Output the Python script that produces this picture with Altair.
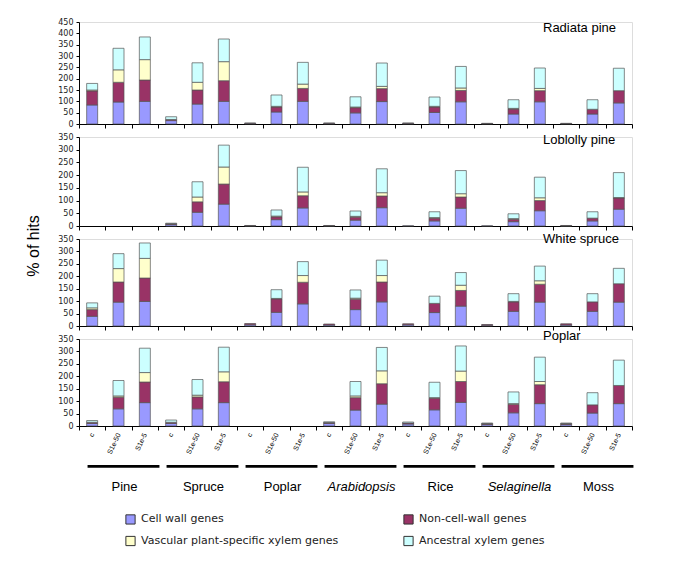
import altair as alt
import pandas as pd

groups = ["Pine", "Spruce", "Poplar", "Arabidopsis", "Rice", "Selaginella", "Moss"]
italic_groups = ["Arabidopsis", "Selaginella"]
types = ["c", "S1e-50", "S1e-5"]
# listed in stacking order (bottom to top)
categories = ["Cell wall genes", "Non-cell-wall genes",
              "Vascular plant-specific xylem genes", "Ancestral xylem genes"]
colors = ["#9999FF", "#993366", "#FFFFCC", "#CCFFFF"]
# legend reading order (two columns, filled column by column)
legend_order = [0, 2, 1, 3]
panels = ["Radiata pine", "Loblolly pine", "White spruce", "Poplar"]
ymax = [450, 350, 350, 350]

# values per bar: Pine(c,S1e-50,S1e-5), Spruce, Poplar, Arabidopsis, Rice, Selaginella, Moss
radiata_cell = [84, 97, 100, 15, 88, 100, 3, 53, 100, 3, 49, 99, 3, 51, 98, 2, 44, 98, 2, 44, 93]
radiata_non = [62, 87, 94, 5, 62, 91, 1, 22, 57, 1, 23, 57, 1, 24, 50, 1, 22, 49, 1, 21, 54]
radiata_vasc = [4, 55, 90, 0, 34, 84, 0, 3, 19, 0, 3, 10, 0, 3, 11, 0, 3, 10, 0, 0, 0]
radiata_anc = [29, 95, 100, 12, 86, 100, 0, 50, 96, 0, 45, 103, 0, 41, 95, 0, 38, 90, 0, 42, 99]

loblolly_cell = [0, 0, 0, 6, 54, 86, 1, 25, 71, 1, 23, 72, 1, 20, 70, 1, 17, 60, 1, 20, 66]
loblolly_non = [0, 0, 0, 3, 41, 79, 1, 11, 48, 1, 12, 46, 0, 11, 44, 0, 10, 40, 1, 11, 44]
loblolly_vasc = [0, 0, 0, 0, 19, 67, 0, 3, 15, 0, 3, 13, 0, 2, 13, 0, 2, 11, 0, 0, 2]
loblolly_anc = [0, 0, 0, 2, 60, 86, 0, 24, 97, 0, 21, 94, 0, 23, 91, 0, 19, 81, 0, 25, 98]

spruce_cell = [39, 96, 99, 0, 0, 0, 5, 55, 89, 4, 66, 97, 5, 54, 80, 3, 59, 96, 4, 59, 96]
spruce_non = [27, 81, 94, 0, 0, 0, 5, 54, 87, 4, 42, 80, 4, 37, 63, 3, 38, 72, 5, 38, 74]
spruce_vasc = [7, 54, 79, 0, 0, 0, 0, 2, 27, 0, 4, 26, 0, 0, 21, 0, 2, 14, 0, 0, 0]
spruce_anc = [20, 60, 62, 0, 0, 0, 0, 35, 56, 0, 33, 62, 0, 29, 51, 0, 31, 59, 0, 33, 62]

poplar_cell = [10, 69, 94, 10, 69, 94, 0, 0, 0, 10, 64, 88, 8, 65, 95, 6, 53, 90, 6, 52, 90]
poplar_non = [5, 47, 83, 5, 48, 84, 0, 0, 0, 4, 50, 82, 4, 47, 84, 4, 34, 76, 4, 33, 73]
poplar_vasc = [0, 5, 38, 0, 7, 40, 0, 0, 0, 0, 7, 52, 0, 2, 42, 0, 3, 13, 0, 0, 0]
poplar_anc = [7, 62, 98, 9, 63, 99, 0, 0, 0, 3, 58, 94, 4, 62, 101, 2, 47, 98, 2, 49, 102]

series = {
    "Radiata pine": [radiata_cell, radiata_non, radiata_vasc, radiata_anc],
    "Loblolly pine": [loblolly_cell, loblolly_non, loblolly_vasc, loblolly_anc],
    "White spruce": [spruce_cell, spruce_non, spruce_vasc, spruce_anc],
    "Poplar": [poplar_cell, poplar_non, poplar_vasc, poplar_anc],
}

bar_keys = [f"{g}|{t}" for g in groups for t in types]
color_domain = [categories[k] for k in legend_order]
color_range = [colors[k] for k in legend_order]

rows = []
for p in panels:
    for ci, cat in enumerate(categories):
        for bi, key in enumerate(bar_keys):
            rows.append({"panel": p, "bar": key, "cat": cat, "ord": ci,
                         "value": series[p][ci][bi]})
df = pd.DataFrame(rows)

heights = [102, 89, 87, 87]
title_y = [6.3, 3.3, 0.3, -3.3]
W = 553
FONT = "Liberation Sans"


def panel(i):
    p = panels[i]
    last = i == 3
    d = df[(df.panel == p) & (df.value > 0)]
    xaxis = alt.Axis(title=None, labels=last,
                     labelExpr="split(datum.value, '|')[1]",
                     labelAngle=295, labelAlign="right", labelBaseline="middle",
                     labelFontSize=7, labelFont=FONT, labelPadding=3,
                     labelOverlap=False, labelColor="black",
                     tickBand="extent", ticks=True, tickSize=4, tickColor="black",
                     domainColor="black", grid=False)
    yaxis = alt.Axis(title=None, values=list(range(0, ymax[i] + 1, 50)),
                     labelFont="DejaVu Sans", labelFontSize=8, labelColor="#222",
                     tickSize=3, tickColor="black", domainColor="black",
                     labelPadding=3, grid=False)
    if last:
        legend = alt.Legend(orient="none", legendX=46, legendY=174.5, columns=2,
                            columnPadding=62, rowPadding=7, title=None,
                            symbolType="square", symbolSize=85,
                            symbolStrokeColor="#333", symbolStrokeWidth=1,
                            labelFont="DejaVu Sans", labelFontSize=11,
                            labelColor="#222", labelOffset=5, padding=0,
                            labelLimit=400)
    else:
        legend = None
    bars = alt.Chart(d).mark_bar(size=11, stroke="#555", strokeWidth=0.7).encode(
        x=alt.X("bar:N", scale=alt.Scale(domain=bar_keys, paddingInner=0, paddingOuter=0),
                axis=xaxis),
        y=alt.Y("value:Q", stack="zero",
                scale=alt.Scale(domain=[0, ymax[i]], nice=False), axis=yaxis),
        color=alt.Color("cat:N", scale=alt.Scale(domain=color_domain, range=color_range),
                        legend=legend),
        order=alt.Order("ord:Q", sort="ascending"),
    )
    ttl = alt.Chart(pd.DataFrame({"t": [p]})).mark_text(
        align="left", baseline="middle", font=FONT, fontSize=13, color="black"
    ).encode(x=alt.value(464), y=alt.value(title_y[i]), text="t:N")
    layers = [bars, ttl]
    if i == 2:
        ytitle = alt.Chart(pd.DataFrame({"t": ["% of hits"]})).mark_text(
            align="center", baseline="middle", angle=270, font=FONT,
            fontSize=16, color="black"
        ).encode(x=alt.value(-45), y=alt.value(7), text="t:N")
        layers.append(ytitle)
    if last:
        gdf = pd.DataFrame({"group": groups,
                            "italic": [g in italic_groups for g in groups]})
        gscale = alt.Scale(domain=groups, paddingInner=0.09, paddingOuter=0.045)
        glines = alt.Chart(gdf).mark_bar(color="black", xOffset=5).encode(
            x=alt.X("group:N", scale=gscale, axis=None),
            y=alt.value(126), y2=alt.value(128.8))
        glab_n = alt.Chart(gdf).transform_filter("!datum.italic").mark_text(
            font=FONT, fontSize=13, color="black", dx=6, baseline="middle"
        ).encode(x=alt.X("group:N", scale=gscale, axis=None),
                 y=alt.value(148.4), text="group:N")
        glab_i = alt.Chart(gdf).transform_filter("datum.italic").mark_text(
            font=FONT, fontSize=13, fontStyle="italic", color="black", dx=6,
            baseline="middle"
        ).encode(x=alt.X("group:N", scale=gscale, axis=None),
                 y=alt.value(148.4), text="group:N")
        layers += [glines, glab_n, glab_i]
        return alt.layer(*layers).resolve_scale(x="independent").properties(
            width=W, height=heights[i])
    return alt.layer(*layers).properties(width=W, height=heights[i])


chart = alt.vconcat(*[panel(i) for i in range(4)], spacing=13, bounds="flush").resolve_scale(
    color="independent").resolve_legend(color="independent").properties(
    padding={"left": 17, "top": 9, "right": 5, "bottom": 5}
).configure_view(stroke=None).configure(background="white")

chart.save("out.html", embed_options={"renderer": "svg", "actions": False})
